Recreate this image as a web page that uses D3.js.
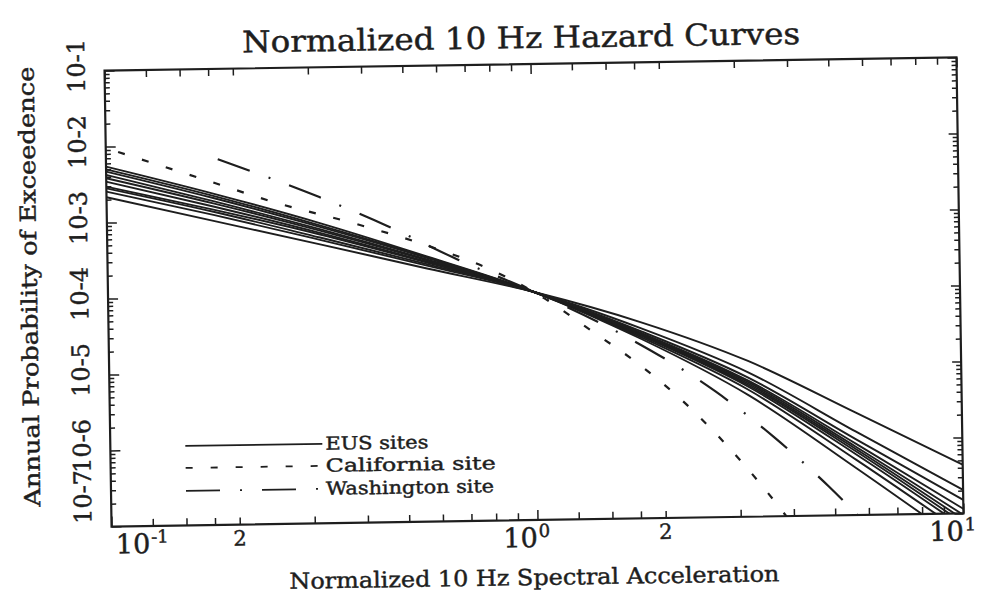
<!DOCTYPE html>
<html>
<head>
<meta charset="utf-8">
<script src="https://cdn.jsdelivr.net/npm/d3@7"></script>
<style>
  body { margin: 0; background: #fff; }
  svg { display: block; }
  text { stroke: #1e1e1e; stroke-width: 0.45px; }
</style>
</head>
<body>
<div id="chart"></div>
<script>
// normalized 10 Hz spectral acceleration where the EUS curves were read
const accel = [0.1, 0.178, 0.316, 0.562, 1, 1.78, 3.16, 5.62, 10];

// annual probability of exceedence, one array per EUS site
const eusSite1  = [5.45e-3, 2.29e-3, 8.91e-4, 3.09e-4, 1e-4, 2.29e-5, 3.98e-6, 4.17e-7, 3.98e-8];
const eusSite2  = [5.02e-3, 2.14e-3, 8.32e-4, 3.02e-4, 1e-4, 2.40e-5, 4.68e-6, 5.37e-7, 5.50e-8];
const eusSite3  = [4.68e-3, 2.00e-3, 7.94e-4, 2.95e-4, 1e-4, 2.51e-5, 5.13e-6, 6.31e-7, 6.61e-8];
const eusSite4  = [4.23e-3, 1.82e-3, 7.41e-4, 2.82e-4, 1e-4, 2.57e-5, 5.37e-6, 6.92e-7, 7.41e-8];
const eusSite5  = [3.83e-3, 1.70e-3, 7.08e-4, 2.75e-4, 1e-4, 2.63e-5, 5.62e-6, 7.41e-7, 8.32e-8];
const eusSite6  = [3.45e-3, 1.55e-3, 6.61e-4, 2.63e-4, 1e-4, 2.69e-5, 5.89e-6, 7.94e-7, 9.55e-8];
const eusSite7  = [2.97e-3, 1.41e-3, 6.31e-4, 2.57e-4, 1e-4, 2.75e-5, 6.17e-6, 8.71e-7, 1.15e-7];
const eusSite8  = [2.82e-3, 1.32e-3, 5.75e-4, 2.45e-4, 1e-4, 2.88e-5, 6.76e-6, 1.00e-6, 1.51e-7];
const eusSite9  = [2.55e-3, 1.20e-3, 5.37e-4, 2.34e-4, 1e-4, 3.16e-5, 7.94e-6, 1.26e-6, 2.04e-7];
const eusSite10 = [2.15e-3, 1.00e-3, 4.68e-4, 2.14e-4, 1e-4, 3.80e-5, 1.12e-5, 2.24e-6, 4.37e-7];
const eusSites = [eusSite1, eusSite2, eusSite3, eusSite4, eusSite5,
                  eusSite6, eusSite7, eusSite8, eusSite9, eusSite10];

const californiaAccel = [0.1, 0.167, 0.252, 0.38, 0.579, 0.794, 1, 1.38, 1.74, 2.15, 3.15, 3.78, 3.98];
const californiaProb  = [9.55e-3, 3.63e-3, 1.66e-3, 8.71e-4, 4.07e-4, 2.0e-4, 1e-4, 2.84e-5, 1.10e-5, 4.01e-6, 4.07e-7, 1.12e-7, 7.6e-8];

const washingtonAccel = [0.183, 0.316, 0.455, 0.667, 1, 1.64, 2.65, 3.61, 4.85, 5.75];
const washingtonProb  = [6.46e-3, 1.96e-3, 7.93e-4, 2.74e-4, 1e-4, 2.47e-5, 4.48e-6, 1.11e-6, 2.39e-7, 8.9e-8];

// axis ticks and labels
const xDecades = [0.1, 1, 10];
const xDecadeExp = ['-1', '0', '1'];
const xTwoTicks = [0.2, 2];
const xMinor = [0.125, 0.15, 0.175, 0.3, 0.4, 0.5, 0.6, 0.7, 0.8, 0.9,
                1.25, 1.5, 1.75, 3, 4, 5, 6, 7, 8, 9];
const yDecades = [1e-1, 1e-2, 1e-3, 1e-4, 1e-5, 1e-6, 1e-7];
const yLabels = ['10-1', '10-2', '10-3', '10-4', '10-5', '10-6', '10-7'];
const legendNames = ['EUS sites', 'California site', 'Washington site'];

const W = 983, H = 607;
const ink = '#1e1e1e';
const frame = {left: 108, right: 960, top: 64, bottom: 520};
const dashes = ['none', '7,18', '34,20,2,20'];

const x = d3.scaleLog().domain([0.1, 10]).range([frame.left, frame.right]);
const y = d3.scaleLog().domain([1e-7, 1e-1]).range([frame.bottom, frame.top]);

const svg = d3.select('#chart').append('svg')
    .attr('width', W).attr('height', H)
    .style('font-family', '"DejaVu Serif", serif');

// the scanned page sits slightly askew
const g = svg.append('g').attr('transform', 'rotate(-0.88,534,292)');

g.append('clipPath').attr('id', 'plot-clip')
  .append('rect')
    .attr('x', frame.left).attr('y', frame.top)
    .attr('width', frame.right - frame.left)
    .attr('height', frame.bottom - frame.top);

const line = d3.line()
    .x(d => x(d[0]))
    .y(d => y(d[1]))
    .curve(d3.curveMonotoneX);

const curves = g.append('g')
    .attr('clip-path', 'url(#plot-clip)')
    .attr('fill', 'none')
    .attr('stroke', ink);

curves.selectAll('path.eus')
  .data(eusSites)
  .join('path')
    .attr('class', 'eus')
    .attr('stroke-width', 1.9)
    .attr('d', s => line(accel.map((a, i) => [a, s[i]])));

curves.append('path')
    .attr('stroke-width', 2.2)
    .attr('stroke-dasharray', dashes[1])
    .attr('stroke-dashoffset', 12)
    .attr('d', line(californiaAccel.map((a, i) => [a, californiaProb[i]])));

curves.append('path')
    .attr('stroke-width', 2.2)
    .attr('stroke-dasharray', dashes[2])
    .attr('d', line(washingtonAccel.map((a, i) => [a, washingtonProb[i]])));

// frame
g.append('rect')
    .attr('x', frame.left).attr('y', frame.top)
    .attr('width', frame.right - frame.left)
    .attr('height', frame.bottom - frame.top)
    .attr('fill', 'none')
    .attr('stroke', ink)
    .attr('stroke-width', 2.2);

// inward ticks on all four sides
function ticks(axis, translate, values, size) {
  g.append('g')
      .attr('transform', translate)
      .attr('color', ink)
      .call(axis.tickValues(values).tickSize(size).tickFormat(''))
      .call(a => a.select('.domain').remove())
      .call(a => a.selectAll('line').attr('stroke-width', 1.5));
}
const yMinor = [];
yDecades.slice(1).forEach(d => {
  for (let k = 2; k <= 9; k++) yMinor.push(d * k);
});

ticks(d3.axisBottom(x), `translate(0,${frame.bottom})`, xMinor.concat(xTwoTicks), -7);
ticks(d3.axisBottom(x), `translate(0,${frame.bottom})`, xDecades, -10);
ticks(d3.axisTop(x), `translate(0,${frame.top})`, xMinor.concat(xTwoTicks), -7);
ticks(d3.axisTop(x), `translate(0,${frame.top})`, xDecades, -10);
ticks(d3.axisLeft(y), `translate(${frame.left},0)`, yMinor, -5);
ticks(d3.axisLeft(y), `translate(${frame.left},0)`, yDecades, -10);
ticks(d3.axisRight(y), `translate(${frame.right},0)`, yMinor, -5);
ticks(d3.axisRight(y), `translate(${frame.right},0)`, yDecades, -9);

// x tick labels: 10 with a raised exponent, and the "2" marks
xDecades.forEach((t, i) => {
  const first = i === 0;
  const base = g.append('text')
      .attr('x', first ? x(t) + 4 : x(t))
      .attr('y', frame.bottom + 27)
      .attr('text-anchor', first ? 'start' : 'end')
      .attr('font-size', 27)
      .attr('fill', ink)
      .text('10');
  const b = base.node().getBBox();
  g.append('text')
      .attr('x', b.x + b.width + 1)
      .attr('y', frame.bottom + 17)
      .attr('font-size', 18)
      .attr('fill', ink)
      .text(xDecadeExp[i]);
});
g.selectAll('text.two')
  .data(xTwoTicks)
  .join('text')
    .attr('class', 'two')
    .attr('x', d => x(d))
    .attr('y', frame.bottom + 21)
    .attr('text-anchor', 'middle')
    .attr('font-size', 21)
    .attr('fill', ink)
    .text('2');

// y tick labels, rotated
g.selectAll('text.ylab')
  .data(yDecades)
  .join('text')
    .attr('class', 'ylab')
    .attr('transform', d => `translate(88,${Math.min(y(d) - 5, frame.bottom - 30)}) rotate(-90)`)
    .attr('text-anchor', 'middle')
    .attr('font-size', 24)
    .attr('fill', ink)
    .text((d, i) => yLabels[i]);

// titles
g.append('text')
    .attr('x', 525).attr('y', 48)
    .attr('text-anchor', 'middle')
    .attr('font-size', 30)
    .attr('textLength', 558).attr('lengthAdjust', 'spacingAndGlyphs')
    .attr('fill', ink)
    .text('Normalized 10 Hz Hazard Curves');

g.append('text')
    .attr('x', 530).attr('y', 585)
    .attr('text-anchor', 'middle')
    .attr('font-size', 22)
    .attr('textLength', 490).attr('lengthAdjust', 'spacingAndGlyphs')
    .attr('fill', ink)
    .text('Normalized 10 Hz Spectral Acceleration');

g.append('text')
    .attr('transform', 'translate(37,279) rotate(-90)')
    .attr('text-anchor', 'middle')
    .attr('font-size', 22)
    .attr('textLength', 440).attr('lengthAdjust', 'spacingAndGlyphs')
    .attr('fill', ink)
    .text('Annual Probability of Exceedence');

// legend
const legendRows = [440.6, 462.6, 485.6];
const legendWidths = [103, 170, 168];
const legend = g.append('g');
legendNames.forEach((name, i) => {
  legend.append('line')
      .attr('x1', 183).attr('x2', 320)
      .attr('y1', legendRows[i]).attr('y2', legendRows[i])
      .attr('stroke', ink)
      .attr('stroke-width', 1.8)
      .attr('stroke-dasharray', dashes[i]);
  legend.append('text')
      .attr('x', 323).attr('y', legendRows[i] + 6)
      .attr('font-size', 18)
      .attr('textLength', legendWidths[i]).attr('lengthAdjust', 'spacingAndGlyphs')
      .attr('fill', ink)
      .text(name);
});
</script>
</body>
</html>
